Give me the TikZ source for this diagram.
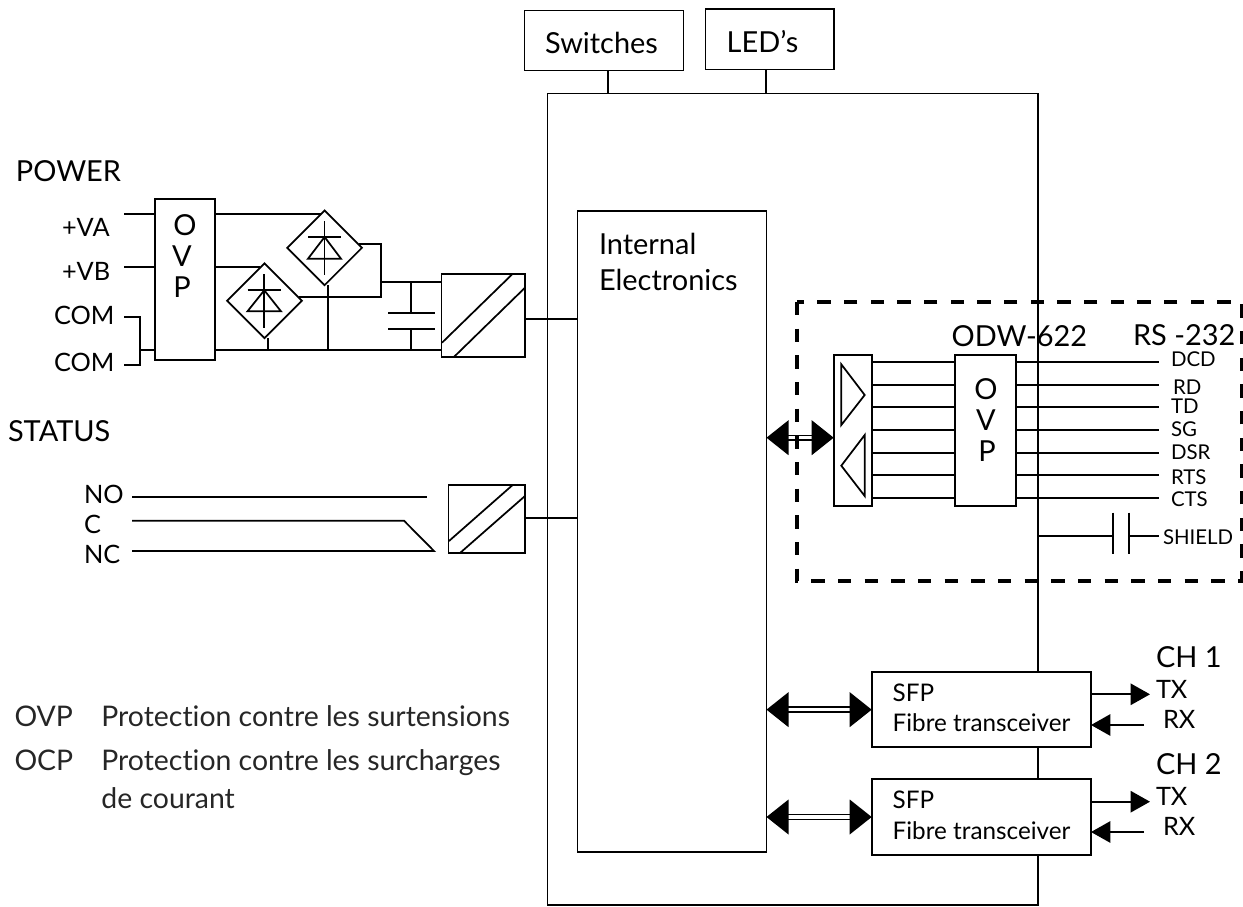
\documentclass[tikz,border=0pt]{standalone}
\usepackage{fontspec}
\setmainfont{Lato}[Ligatures=NoCommon]
\usetikzlibrary{arrows.meta,shapes.geometric}
\tikzset{
  wire/.style={line width=1.3pt,line cap=butt,line join=miter},
  boxs/.style={draw,wire,rectangle,inner sep=0pt,outer sep=0pt,fill=white},
  dia/.style={draw,wire,diamond,inner sep=0pt,outer sep=0pt,minimum width=56pt,minimum height=56pt,fill=white},
  big/.style={inner sep=0pt,outer sep=0pt,anchor=base west,font=\fontsize{21.7}{25}\selectfont},
  mid/.style={inner sep=0pt,outer sep=0pt,anchor=base west,font=\fontsize{19}{22}\selectfont},
  sfptext/.style={inner sep=0pt,outer sep=0pt,anchor=base west,font=\fontsize{18.2}{22}\selectfont},
  small/.style={inner sep=0pt,outer sep=0pt,anchor=base west,font=\fontsize{15.3}{18}\selectfont},
  letter/.style={inner sep=0pt,outer sep=0pt,anchor=base,font=\fontsize{21.7}{25}\selectfont},
  legend/.style={inner sep=0pt,outer sep=0pt,anchor=base west,font=\fontsize{21.3}{25}\selectfont,text=black!85},
  dbl/.style={line width=1.1pt,double,double distance=2.6pt,{Triangle[length=16.5pt,width=26pt]}-{Triangle[length=16.5pt,width=26pt]}},
  sarrow/.style={wire,-{Triangle[length=14.5pt,width=16pt]}},
  dashbox/.style={line width=3pt,dash pattern=on 10pt off 10pt}
}
\newcommand{\bx}[6][]{%
  \pgfmathsetmacro\bw{(#4-#2)*0.75}\pgfmathsetmacro\bh{(#5-#3)*0.75}%
  \node[boxs,minimum width=\bw pt,minimum height=\bh pt,#1] (#6) at ({(#2+#4)/2},{(#3+#5)/2}) {};}
\begin{document}
\begin{tikzpicture}[x=0.75pt,y=-0.75pt]
\useasboundingbox (0,0) rectangle (1243,907);
% main boxes
\bx[fill=none]{547.5}{93.5}{1038}{905}{main}
\bx{577.5}{211}{766.5}{852}{internal}
\bx{524.5}{10.5}{683.5}{70.5}{switches}
\bx{705.5}{9}{834}{69.5}{leds}
\draw[wire] (switches.south -| 607.7,0) -- (main.north -| 607.7,0);
\draw[wire] (leds.south -| 766,0) -- (main.north -| 766,0);
\node[big] (tsw) at (545,53.3) {Switches};
\node[big] (tled) at (726.7,52.7) {LED’s};
\node[big] (tint) at (599,254) {Internal};
\node[big] (tele) at (599,290.7) {Electronics};
% power
\node[big] (tpower) at (16,181.7) {POWER};
\bx{154.8}{198.7}{215}{360}{ovpa}
\node[letter] (oa) at (185,235) {O};
\node[letter] (va) at (182,266.7) {V};
\node[letter] (pa) at (182,297.7) {P};
\node[mid] (tva) at (62,236) {+VA};
\node[mid] (tvb) at (62,280) {+VB};
\node[mid] (tca) at (54,324) {COM};
\node[mid] (tcb) at (54,371.7) {COM};
\coordinate (vaL) at (124,213.7);
\coordinate (vbL) at (124,266.7);
\coordinate (comA) at (124,317.3);
\coordinate (comB) at (124,365);
\coordinate (comT) at (140,317.3);
\coordinate (comU) at (140,365);
\coordinate (comJ) at (140,350);
\draw[wire] (vaL) -- (vaL -| ovpa.west);
\draw[wire] (vbL) -- (vbL -| ovpa.west);
\draw[wire] (comA) -- (comT) -- (comU) -- (comB);
\draw[wire] (comJ) -- (comJ -| ovpa.west);
\node[dia] (d1) at (324.6,247.8) {};
\node[dia] (d2) at (264.5,300.8) {};
\coordinate (d1in) at (320.5,213.7);
\coordinate (d2in) at (260,266.7);
\draw[wire] (vaL -| ovpa.east) -- (d1in);
\draw[wire] (vbL -| ovpa.east) -- (d2in);
\bx{441.5}{274}{525}{357.3}{conva}
\coordinate (busR) at (381,244.3);
\coordinate (busS) at (381,281.7);
\coordinate (busB) at (381,296.7);
\coordinate (d1out) at (359,244.3);
\coordinate (d2out) at (299,296.7);
\draw[wire] (d1out) -- (busR) -- (busB) -- (d2out);
\draw[wire] (busS) -- (busS -| conva.west);
\coordinate (gnd) at (215,350);
\draw[wire] (gnd) -- (gnd -| conva.west);
\coordinate (d2g) at (268,338);
\coordinate (d1g) at (328,285);
\draw[wire] (d2g) -- (d2g |- gnd);
\draw[wire] (d1g) -- (d1g |- gnd);
% capacitor
\coordinate (capT) at (411,281.7);
\coordinate (capB) at (411,350);
\coordinate (capP) at (411,313.3);
\coordinate (capQ) at (411,329);
\draw[wire] (capT) -- (capP);
\draw[wire] (capQ) -- (capB);
\draw[wire] (388,313.3) -- (435,313.3);
\draw[wire] (388,329) -- (435,329);
% diodes
\draw[wire] (324.6,221) -- (324.6,275);
\draw[wire] (308,237) -- (341,237);
\draw[wire] (324.6,237) -- (308,258.7) -- (341,258.7) -- cycle;
\draw[wire] (264.3,274.3) -- (264.3,327.7);
\draw[wire] (247.5,290.3) -- (281,290.3);
\draw[wire] (264.3,290.3) -- (247.5,311.3) -- (281,311.3) -- cycle;
% converter hatch
\draw[wire] (442,342.7) -- (512.5,274);
\draw[wire] (453.6,357.3) -- (525,287.7);
\coordinate (convO) at (525,319.3);
\draw[wire] (convO) -- (convO -| internal.west);
% status
\node[big] (tstatus) at (8,441.7) {STATUS};
\node[mid] (tno) at (84,503) {NO};
\node[mid] (tc) at (84,533) {C};
\node[mid] (tnc) at (84,563) {NC};
\coordinate (noL) at (132,497);
\coordinate (noR) at (427,497);
\coordinate (cL) at (132,520.7);
\coordinate (cR) at (404,520.7);
\coordinate (ncL) at (132,551);
\coordinate (ncR) at (434,551);
\draw[wire] (noL) -- (noR);
\draw[wire] (cL) -- (cR) -- (ncR) -- (ncL);
\bx{448.6}{484.7}{525}{553}{convb}
\draw[wire] (449,541) -- (513,484.7);
\draw[wire] (460,553) -- (525,496);
\coordinate (convP) at (525,517.7);
\draw[wire] (convP) -- (convP -| internal.west);
% RS-232 block
\bx{833.7}{354.7}{872.3}{506}{buf}
\bx{954.7}{354.7}{1015.7}{506}{ovpb}
\draw[wire] (841.3,364.3) -- (864.7,395) -- (841.3,425) -- cycle;
\draw[wire] (864.7,435) -- (841.3,465.7) -- (864.7,496) -- cycle;
\foreach \yy/\nm in {362.3/a,385/b,407.3/c,430/d,452.7/e,475/f,498/g}{
  \coordinate (sig\nm) at (1159.3,\yy);
  \draw[wire] (buf.east |- sig\nm) -- (ovpb.west |- sig\nm);
  \draw[wire] (ovpb.east |- sig\nm) -- (sig\nm);
}
\node[letter] (ob) at (986,399.3) {O};
\node[letter] (vb) at (986,430) {V};
\node[letter] (pb) at (987,461.7) {P};
\node[big] (todw) at (951.7,346.7) {ODW-622};
\node[big] (trs) at (1133,345) {RS -232};
\node[small] (tdcd) at (1171,366.7) {DCD};
\node[small] (trd) at (1173,394.7) {RD};
\node[small] (ttd) at (1171,413.7) {TD};
\node[small] (tsg) at (1171,436.7) {SG};
\node[small] (tdsr) at (1171,459.7) {DSR};
\node[small] (trts) at (1171,484.7) {RTS};
\node[small] (tcts) at (1171,506.7) {CTS};
\node[small] (tshield) at (1163,544.3) {SHIELD};
\coordinate (shA) at (1113,536);
\coordinate (shB) at (1128.7,536);
\coordinate (shE) at (1159,536);
\draw[wire] (shA -| main.east) -- (shA);
\draw[wire] (shB) -- (shE);
\draw[wire] (1113,512.7) -- (1113,554);
\draw[wire] (1128.7,512.7) -- (1128.7,554);
\coordinate (bufY) at (800,437.7);
\draw[dbl] (bufY -| internal.east) -- (bufY -| buf.west);
\draw[dashbox] (796.7,302) rectangle (1241.7,580.7);
% SFP
\bx{871.7}{672}{1091}{747.3}{sfpa}
\bx{871.7}{779.3}{1091}{854.7}{sfpb}
\draw[dbl] (sfpa.west -| internal.east) -- (sfpa.west);
\draw[dbl] (sfpb.west -| internal.east) -- (sfpb.west);
\node[sfptext] (ts1) at (892.7,701.7) {SFP};
\node[sfptext] (tf1) at (892.7,731.7) {Fibre transceiver};
\node[sfptext] (ts2) at (892.7,808.7) {SFP};
\node[sfptext] (tf2) at (892.7,839) {Fibre transceiver};
\coordinate (txa) at (1150,694.3);
\coordinate (rxa) at (1144,725);
\coordinate (txb) at (1150,801.7);
\coordinate (rxb) at (1144,832);
\draw[sarrow] (txa -| sfpa.east) -- (txa);
\draw[sarrow] (rxa) -- (rxa -| sfpa.east);
\draw[sarrow] (txb -| sfpb.east) -- (txb);
\draw[sarrow] (rxb) -- (rxb -| sfpb.east);
\node[big] (tch1) at (1156,667.3) {CH 1};
\node[mid] (ttx1) at (1156,698.3) {TX};
\node[mid] (trx1) at (1163,728.3) {RX};
\node[big] (tch2) at (1156,774) {CH 2};
\node[mid] (ttx2) at (1156,805.7) {TX};
\node[mid] (trx2) at (1163,835) {RX};
% legend
\node[legend] (l1) at (14.5,726.7) {OVP};
\node[legend] (l1b) at (101.4,726.7) {Protection contre les surtensions};
\node[legend] (l2) at (14.5,770.7) {OCP};
\node[legend] (l2b) at (101.4,770.7) {Protection contre les surcharges};
\node[legend] (l3b) at (101.4,808) {de courant};
\end{tikzpicture}
\end{document}
